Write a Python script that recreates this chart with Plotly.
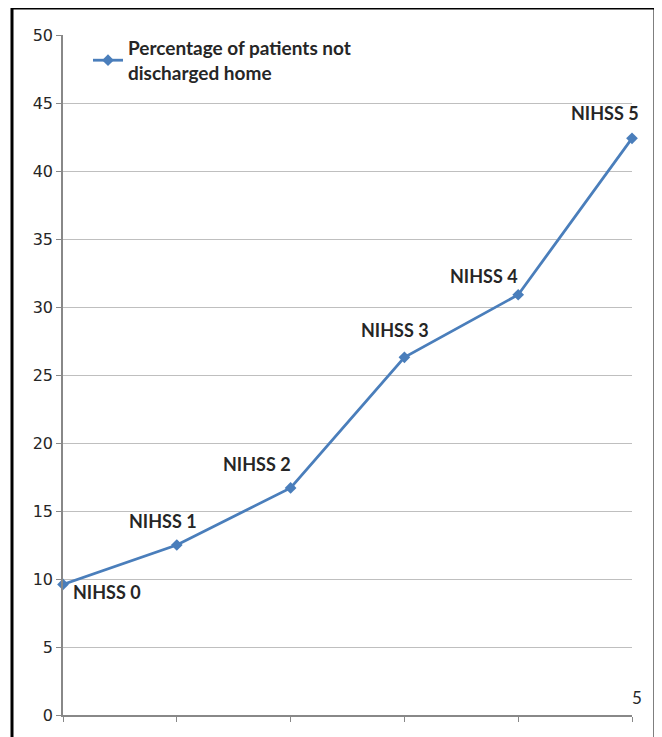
import plotly.graph_objects as go

categories = ["NIHSS 0", "NIHSS 1", "NIHSS 2", "NIHSS 3", "NIHSS 4", "NIHSS 5"]
values = [9.6, 12.5, 16.7, 26.3, 30.9, 42.4]
y_ticks = [0, 5, 10, 15, 20, 25, 30, 35, 40, 45, 50]
series_name = "<b>Percentage of patients not<br>discharged home</b>"

# label offsets in pixels (dx, dy up)
label_shifts = [(44, -8), (-14, 24), (-34, 24), (-9, 27), (-34, 19), (-27, 25)]

x_idx = list(range(len(categories)))
line_color = "#4A7EBB"
font_family = "Lato, 'Open Sans', sans-serif"

fig = go.Figure()
fig.add_trace(go.Scatter(
    x=x_idx, y=values, mode="lines+markers", name=series_name,
    line=dict(color=line_color, width=2.8),
    marker=dict(symbol="diamond", size=9, color=line_color),
    cliponaxis=False,
))

for i, (c, v) in enumerate(zip(categories, values)):
    dx, dy = label_shifts[i]
    fig.add_annotation(x=i, y=v, text="<b>%s</b>" % c, showarrow=False,
                       xshift=dx, yshift=dy,
                       font=dict(family=font_family, size=18, color="#262626"))

fig.add_annotation(xref="paper", yref="paper", x=(644 - 63) / 569, y=(715 - 710) / 680,
                   text="5", showarrow=False,
                   font=dict(family=font_family, size=17, color="#262626"))

# page frame (left, top, right sides)
px = lambda p: (p - 63) / 569
py = lambda p: (715 - p) / 680
frame = dict(color="black", width=3)
fig.add_shape(type="line", xref="paper", yref="paper", x0=px(12), x1=px(12), y0=py(760), y1=py(8), line=frame, layer="above")
fig.add_shape(type="line", xref="paper", yref="paper", x0=px(12), x1=px(655), y0=py(8), y1=py(8), line=frame, layer="above")
fig.add_shape(type="line", xref="paper", yref="paper", x0=px(655), x1=px(655), y0=py(760), y1=py(8), line=frame, layer="above")

fig.update_layout(
    width=654, height=729,
    margin=dict(l=55, r=30, t=27, b=22),
    paper_bgcolor="white", plot_bgcolor="white",
    showlegend=True,
    legend=dict(x=(88 - 63) / 569, y=(715 - 29) / 680, xanchor="left", yanchor="top",
                bgcolor="rgba(0,0,0,0)",
                font=dict(family=font_family, size=19, color="#262626"),
                itemwidth=30),
    font=dict(family=font_family),
)
fig.update_xaxes(range=[0, 5], tickvals=x_idx, showticklabels=False,
                 ticks="outside", ticklen=5, tickcolor="#888888",
                 showgrid=False, showline=True, linecolor="#888888", linewidth=1.5,
                 zeroline=False)
fig.update_yaxes(range=[0, 50], tickvals=y_ticks, ticks="outside", ticklen=5,
                 tickcolor="#888888", showgrid=True, gridcolor="#BFBFBF", gridwidth=1,
                 showline=True, linecolor="#888888", linewidth=1.5, zeroline=False,
                 tickfont=dict(family="'DejaVu Sans', sans-serif", size=16, color="#262626"))

fig.write_html("out.html")
